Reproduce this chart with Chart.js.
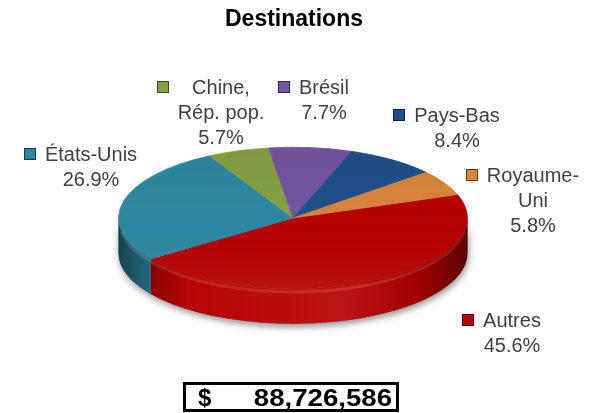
<!DOCTYPE html>
<html>
<head>
<meta charset="utf-8">
<script src="https://cdn.jsdelivr.net/npm/chart.js@4.4.1/dist/chart.umd.min.js"></script>
<style>
  html, body { margin: 0; padding: 0; background: #fff; }
  canvas { display: block; }
</style>
</head>
<body>
<canvas id="c" width="600" height="413"></canvas>
<script>
// ---- data ----
const categories = ['Autres', 'États-Unis', ['Chine,', 'Rép. pop.'], 'Brésil', 'Pays-Bas', ['Royaume-', 'Uni']];
const shares = [45.6, 26.9, 5.7, 7.7, 8.4, 5.8];
const totalValue = 88726586;
const chartTitle = 'Destinations';

// ---- styling ----
const sliceColors = ['#b60000', '#2e87a2', '#86a043', '#7355a0', '#1f4f8a', '#d9843c'];
// label blocks: centre x, baseline of first line
const labelAnchors = [[512, 327], [91, 161], [221, 94], [324, 94], [457, 122], [533, 182]];
const TILT = 71 / 175;   // vertical squash of the pie face
const DEPTH = 35;        // thickness of the pie edge
const FONT = '"Liberation Sans", Arial, sans-serif';

function rgbOf(hex) {
  const n = parseInt(hex.slice(1), 16);
  return [(n >> 16) & 255, (n >> 8) & 255, n & 255];
}
function shade(hex, f) {
  const c = rgbOf(hex).map(v => f > 1 ? v + (255 - v) * (f - 1) : v * f);
  return 'rgb(' + c.map(v => Math.round(Math.max(0, Math.min(255, v)))).join(',') + ')';
}

const tiltPlugin = {
  id: 'tilt3d',
  beforeDatasetsDraw(chart) {
    const ctx = chart.ctx;
    const arcs = chart.getDatasetMeta(0).data;
    const { x: cx, y: cy, outerRadius: R } = arcs[0].getProps(['x', 'y', 'outerRadius'], true);
    const ry = R * TILT;
    const TAU = Math.PI * 2;

    // soft drop shadow under the rim
    ctx.save();
    ctx.shadowColor = 'rgba(0,0,0,0.45)';
    ctx.shadowBlur = 7;
    ctx.shadowOffsetX = 1;
    ctx.shadowOffsetY = 3;
    ctx.beginPath();
    ctx.ellipse(cx, cy + DEPTH, R, ry, 0, 0, Math.PI);
    ctx.ellipse(cx, cy, R, ry, 0, Math.PI, 0, true);
    ctx.closePath();
    ctx.fillStyle = '#777';
    ctx.fill();
    ctx.restore();

    // visible rim of each slice (front half only)
    arcs.forEach((arc, i) => {
      const { startAngle: s, endAngle: e } = arc.getProps(['startAngle', 'endAngle'], true);
      for (let k = -1; k <= 1; k++) {
        const lo = Math.max(s, TAU * k), hi = Math.min(e, TAU * k + Math.PI);
        if (hi <= lo) continue;
        const a0 = lo - TAU * k, a1 = hi - TAU * k;
        const base = sliceColors[i];
        const g = ctx.createLinearGradient(cx - R, 0, cx + R, 0);
        g.addColorStop(0, shade(base, 0.5));
        g.addColorStop(0.07, shade(base, 0.72));
        g.addColorStop(0.2, shade(base, 1.02));
        g.addColorStop(0.65, shade(base, 1.08));
        g.addColorStop(0.86, shade(base, 0.88));
        g.addColorStop(0.96, shade(base, 0.62));
        g.addColorStop(1, shade(base, 0.5));
        ctx.beginPath();
        ctx.ellipse(cx, cy, R, ry, 0, a0, a1);
        ctx.ellipse(cx, cy + DEPTH, R, ry, 0, a1, a0, true);
        ctx.closePath();
        ctx.fillStyle = g;
        ctx.fill();
      }
    });
    // light rim highlight just under the face edge
    ctx.save();
    ctx.beginPath();
    ctx.ellipse(cx, cy + 3, R - 1, ry, 0, 0.15, Math.PI - 0.15);
    ctx.strokeStyle = 'rgba(255,255,255,0.12)';
    ctx.lineWidth = 3;
    ctx.stroke();
    ctx.restore();

    // squash the pie face into an ellipse
    ctx.save();
    ctx.translate(cx, cy);
    ctx.scale(1, TILT);
    ctx.translate(-cx, -cy);
  },
  afterDatasetsDraw(chart) {
    const ctx = chart.ctx;
    ctx.restore();
    const arcs = chart.getDatasetMeta(0).data;
    const { x: cx, y: cy, outerRadius: R } = arcs[0].getProps(['x', 'y', 'outerRadius'], true);
    const ry = R * TILT;
    // gentle shading on the face: darker at the back, brighter at the front
    ctx.save();
    ctx.beginPath();
    ctx.ellipse(cx, cy, R, ry, 0, 0, Math.PI * 2);
    ctx.clip();
    const g = ctx.createLinearGradient(0, cy - ry, 0, cy + ry);
    g.addColorStop(0, 'rgba(0,0,0,0.04)');
    g.addColorStop(0.55, 'rgba(0,0,0,0)');
    g.addColorStop(1, 'rgba(255,255,255,0.08)');
    ctx.fillStyle = g;
    ctx.fillRect(cx - R, cy - ry, 2 * R, 2 * ry);
    ctx.restore();
  },
  afterDraw(chart) {
    const ctx = chart.ctx;
    const values = chart.data.datasets[0].data;
    const labels = chart.data.labels;

    // slice labels with colour keys
    ctx.save();
    ctx.font = '20px ' + FONT;
    ctx.textAlign = 'center';
    ctx.textBaseline = 'alphabetic';
    labels.forEach((lab, i) => {
      const lines = (Array.isArray(lab) ? lab.slice() : [lab]);
      lines.push(values[i].toFixed(1) + '%');
      const [ax, ay] = labelAnchors[i];
      const w = Math.max(...lines.map(t => ctx.measureText(t).width));
      ctx.fillStyle = '#404040';
      lines.forEach((t, j) => ctx.fillText(t, ax, ay + j * 25));
      const sx = Math.round(ax - w / 2 - 21) + 0.5, sy = ay - 12.5;
      ctx.fillStyle = sliceColors[i];
      ctx.fillRect(sx, sy, 11, 11);
      ctx.strokeStyle = shade(sliceColors[i], 0.45);
      ctx.lineWidth = 1;
      ctx.strokeRect(sx, sy, 11, 11);
    });
    ctx.restore();

    // title
    ctx.save();
    ctx.font = 'bold 23px ' + FONT;
    ctx.fillStyle = '#000';
    ctx.textAlign = 'center';
    ctx.fillText(chartTitle, 294, 26);
    ctx.restore();

    // total box
    ctx.save();
    ctx.strokeStyle = '#000';
    ctx.lineWidth = 3;
    ctx.strokeRect(184.5, 383.5, 213, 27);
    ctx.fillStyle = '#000';
    ctx.font = 'bold 24px ' + FONT;
    ctx.textAlign = 'left';
    ctx.fillText('$', 198, 406);
    ctx.translate(392, 406);
    ctx.scale(1.15, 1);
    ctx.textAlign = 'right';
    ctx.fillText(totalValue.toLocaleString('en-US'), 0, 0);
    ctx.restore();
  }
};

new Chart(document.getElementById('c'), {
  type: 'pie',
  data: {
    labels: categories,
    datasets: [{
      data: shares,
      backgroundColor: sliceColors,
      borderColor: sliceColors,
      borderWidth: 1
    }]
  },
  options: {
    responsive: false,
    animation: false,
    events: [],
    rotation: 70.7,
    layout: { padding: { left: 118, right: 132, top: 43, bottom: 20 } },
    plugins: {
      legend: { display: false },
      tooltip: { enabled: false },
      title: { display: false }
    }
  },
  plugins: [tiltPlugin]
});
</script>
</body>
</html>
